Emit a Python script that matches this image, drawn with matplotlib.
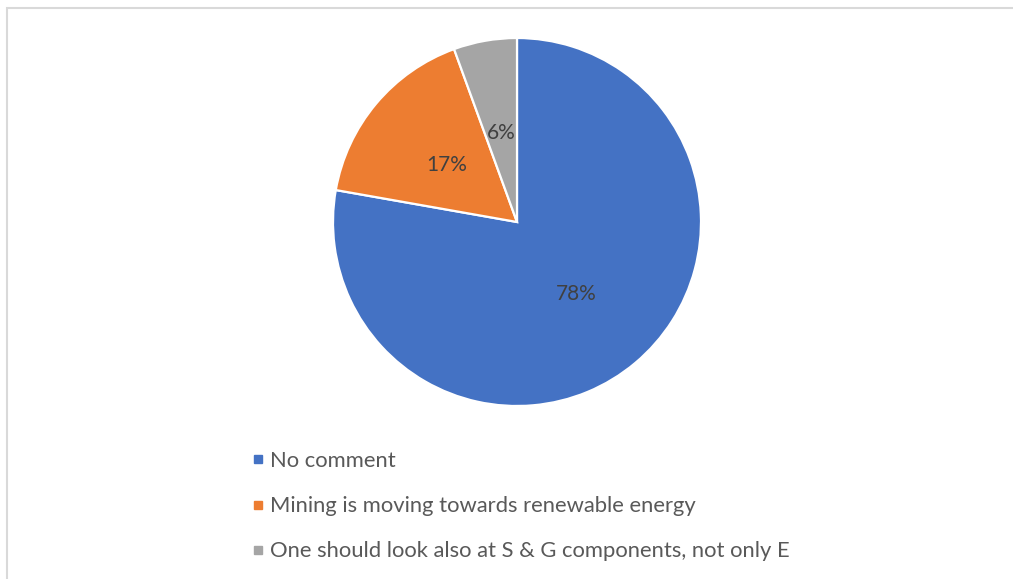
import matplotlib
matplotlib.use("Agg")
import matplotlib.pyplot as plt
from matplotlib.lines import Line2D
from matplotlib.patches import Rectangle

# Survey responses (counts)
categories = [
    "No comment",
    "Mining is moving towards renewable energy",
    "One should look also at S & G components, not only E",
]
counts = [14, 3, 1]
colors = ["#4472C4", "#ED7D31", "#A5A5A5"]

W, H = 1013, 579
fig = plt.figure(figsize=(W / 100, H / 100), dpi=100)
fig.patch.set_facecolor("white")

# light chart-area frame (extends past right/bottom edge)
fig.add_artist(Rectangle((7 / W, -0.1), 1.2, (H - 8) / H + 0.1,
                         transform=fig.transFigure, fill=False,
                         edgecolor="#D9D9D9", linewidth=1.5))

cx, cy, r = 517, 222, 184
ax = fig.add_axes([(cx - r) / W, (H - cy - r) / H, 2 * r / W, 2 * r / H])
ax.set_xlim(-1, 1)
ax.set_ylim(-1, 1)
ax.set_aspect("equal")
ax.axis("off")

wedges, texts, autotexts = ax.pie(
    counts, colors=colors, startangle=90, counterclock=False, radius=1,
    autopct=lambda p: f"{p:.0f}%", pctdistance=0.5,
    wedgeprops=dict(edgecolor="white", linewidth=1.6),
    textprops=dict(color="#404040", fontsize=15, family="Lato"),
)
for t in autotexts:
    t.set_verticalalignment("center_baseline")
ax.set_xlim(-1, 1)
ax.set_ylim(-1, 1)

handles = [Line2D([], [], marker="s", linestyle="none", markersize=6.3,
                  markerfacecolor=c, markeredgecolor=c) for c in colors]
fig.legend(handles, categories, loc="upper left",
           bbox_to_anchor=(252 / W, 1 - 451 / H), frameon=False,
           handlelength=0.55, handletextpad=0.27, labelspacing=1.15,
           borderpad=0, borderaxespad=0,
           prop=dict(family="Lato", size=15.8), labelcolor="#595959")

fig.savefig("out.png", dpi=100, facecolor="white")
